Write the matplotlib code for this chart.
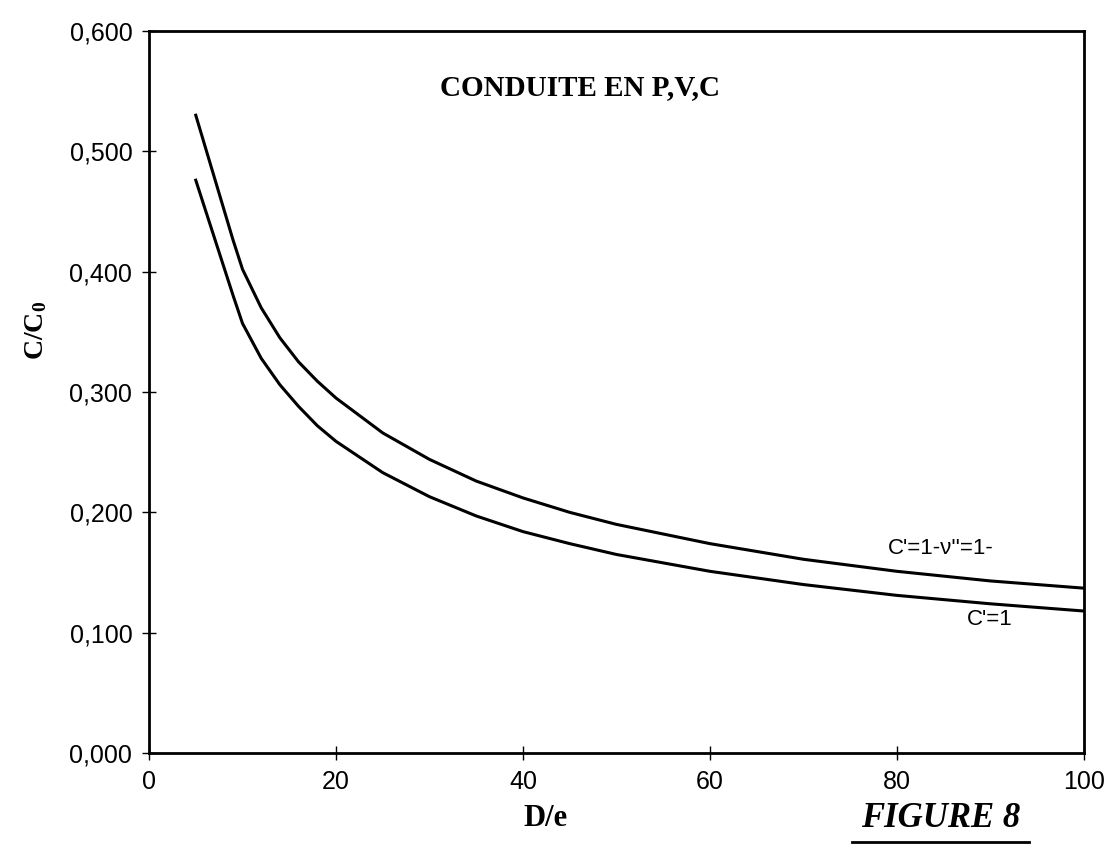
import matplotlib.pyplot as plt
from matplotlib.ticker import FuncFormatter
from matplotlib.lines import Line2D

plt.rcParams['mathtext.fontset'] = 'custom'
plt.rcParams['mathtext.rm'] = 'Liberation Serif:bold'
plt.rcParams['mathtext.it'] = 'Liberation Serif:bold:italic'

# D/e ratio and C/C0 for the two cases
de = [5, 6, 7, 8, 9, 10, 12, 14, 16, 18, 20, 25, 30, 35, 40, 45, 50, 60, 70, 80, 90, 100]
c_upper = [0.530, 0.504, 0.478, 0.452, 0.426, 0.402, 0.370, 0.345, 0.325, 0.309, 0.295,
           0.266, 0.244, 0.226, 0.212, 0.200, 0.190, 0.174, 0.161, 0.151, 0.143, 0.137]
c_lower = [0.476, 0.452, 0.428, 0.404, 0.380, 0.357, 0.328, 0.306, 0.288, 0.272, 0.259,
           0.233, 0.213, 0.197, 0.184, 0.174, 0.165, 0.151, 0.140, 0.131, 0.124, 0.118]

xticks = [0, 20, 40, 60, 80, 100]
yticks = [0.0, 0.1, 0.2, 0.3, 0.4, 0.5, 0.6]

sans = 'Liberation Sans'
serif = 'Liberation Serif'

fig = plt.figure(figsize=(11.08, 8.56), dpi=100)
ax = fig.add_axes([0.1345, 0.1203, 0.8437, 0.8435])

ax.plot(de, c_upper, color='black', lw=2.2)
ax.plot(de, c_lower, color='black', lw=2.2)

ax.set_xlim(0, 100)
ax.set_ylim(0, 0.6)
ax.set_xticks(xticks)
ax.set_yticks(yticks)
ax.yaxis.set_major_formatter(FuncFormatter(lambda v, p: f"{v:.3f}".replace('.', ',')))
ax.tick_params(direction='inout', length=10, width=1, labelsize=18, pad=7)
for lab in ax.get_xticklabels() + ax.get_yticklabels():
    lab.set_fontfamily(sans)
for sp in ax.spines.values():
    sp.set_linewidth(2)

ax.text(0.461, 0.921, 'CONDUITE EN P,V,C', transform=ax.transAxes,
        ha='center', va='center', fontsize=21, fontweight='bold', family=serif)

ax.text(79, 0.170, "C'=1-ν''=1-", ha='left', va='center', fontsize=16, family=sans)
ax.text(87.5, 0.111, "C'=1", ha='left', va='center', fontsize=16, family=sans)

fig.text(0.032, 0.614, r'$\mathrm{C/C_0}$', rotation=90, ha='center', va='center', fontsize=20)
fig.text(0.492, 0.044, 'D/e', ha='center', va='center', fontsize=22,
         fontweight='bold', family=serif)
fig.text(0.849, 0.044, 'FIGURE 8', ha='center', va='center', fontsize=25,
         fontweight='bold', style='italic', family=serif)
fig.add_artist(Line2D([0.769, 0.929], [0.016, 0.016], transform=fig.transFigure,
                      color='black', lw=2))

fig.savefig('out.png', dpi=100)
